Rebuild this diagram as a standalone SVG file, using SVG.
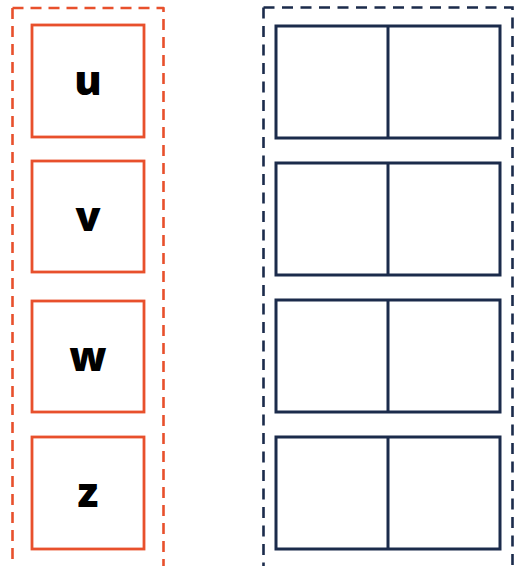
<svg xmlns="http://www.w3.org/2000/svg" width="514" height="566" viewBox="0 0 514 566">
  <style>
    .frame-o { fill: none; stroke: #e8502c; stroke-width: 2.6; stroke-dasharray: 11 7; stroke-linejoin: round; }
    .frame-n { fill: none; stroke: #1b2b4b; stroke-width: 2.6; stroke-dasharray: 11 7.5; }
    .var { fill: #ffffff; stroke: #e8502c; stroke-width: 2.8; }
    .cell { fill: #ffffff; stroke: #1b2b4b; stroke-width: 3; }
    .lbl { font-family: "Open Sans", "Noto Sans", "DejaVu Sans", sans-serif; font-weight: 800; font-size: 41px; fill: #000000; text-anchor: middle; }
  </style>
  <rect width="514" height="566" fill="#ffffff"/>
  <!-- containers -->
  <g id="left-frame">
    <path class="frame-o" d="M12.5,8 H163.5 V572 M12.5,8 V572"/>
  </g>
  <g id="right-frame">
    <path class="frame-n" d="M263.5,7.5 H512.5 V572 M263.5,7.5 V572"/>
  </g>
  <!-- variables -->
  <g id="node-u">
    <rect class="var" x="32" y="25" width="112" height="112"/>
    <text class="lbl" x="88" y="95">u</text>
  </g>
  <g id="node-v">
    <rect class="var" x="32" y="161" width="112" height="111"/>
    <text class="lbl" x="88" y="231">v</text>
  </g>
  <g id="node-w">
    <rect class="var" x="32" y="301" width="112" height="111"/>
    <text class="lbl" x="88" y="371">w</text>
  </g>
  <g id="node-z">
    <rect class="var" x="32" y="437" width="112" height="112"/>
    <text class="lbl" x="88" y="507">z</text>
  </g>
  <!-- pairs -->
  <g id="pair-1">
    <rect class="cell" x="276" y="26" width="224" height="112"/>
    <line class="cell" x1="388" y1="26" x2="388" y2="138"/>
  </g>
  <g id="pair-2">
    <rect class="cell" x="276" y="163" width="224" height="112"/>
    <line class="cell" x1="388" y1="163" x2="388" y2="275"/>
  </g>
  <g id="pair-3">
    <rect class="cell" x="276" y="300" width="224" height="112"/>
    <line class="cell" x1="388" y1="300" x2="388" y2="412"/>
  </g>
  <g id="pair-4">
    <rect class="cell" x="276" y="437" width="224" height="112"/>
    <line class="cell" x1="388" y1="437" x2="388" y2="549"/>
  </g>
  <g id="connectors"></g>
</svg>
